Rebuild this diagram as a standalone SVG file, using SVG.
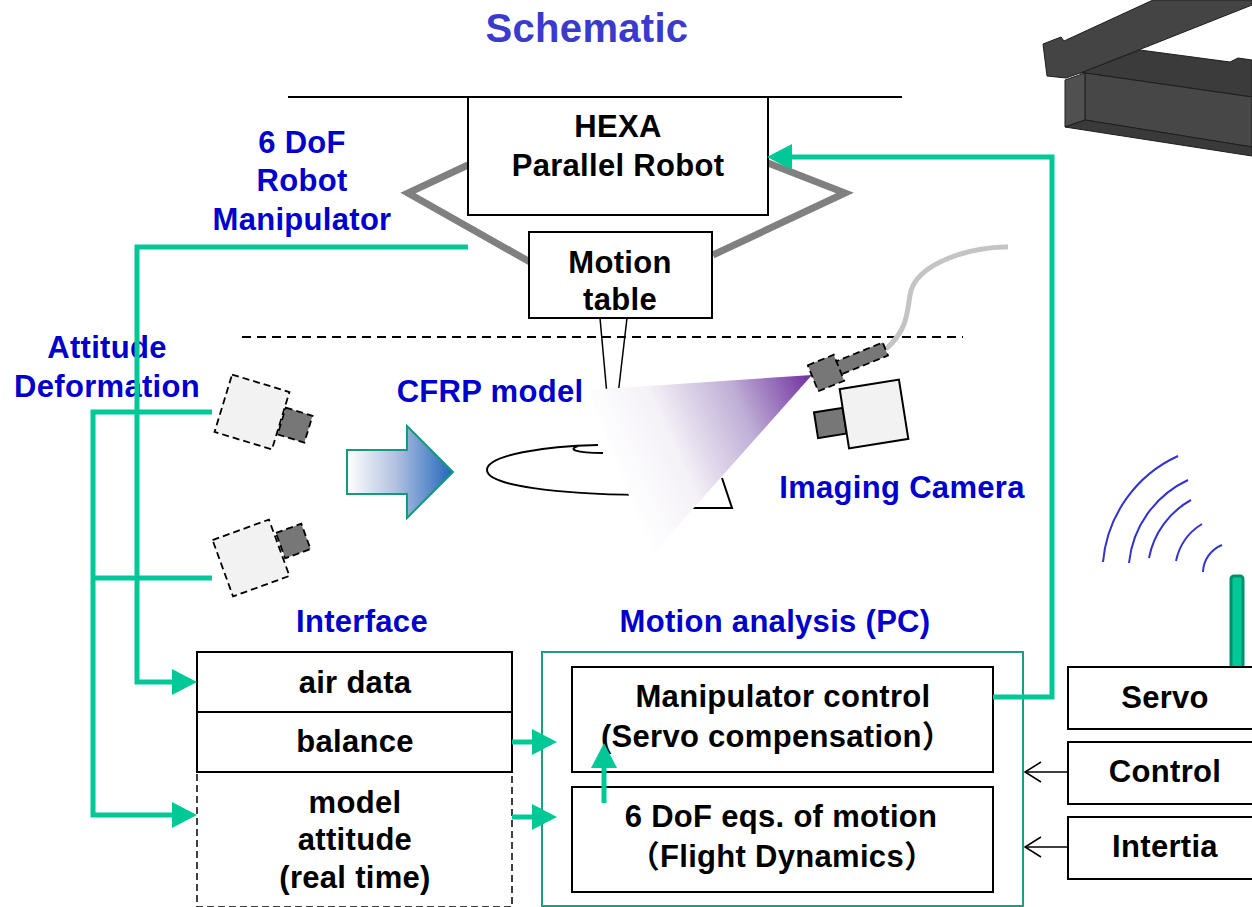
<svg xmlns="http://www.w3.org/2000/svg" width="1252" height="907" viewBox="0 0 1252 907">
  <style>
    .t { font-family: "Liberation Sans", Arial, "Noto Sans CJK JP", sans-serif; font-weight: bold; font-size: 31px; text-anchor: middle; letter-spacing: 0.3px; fill: #000; }
    .blue { fill: #0000cc; }
    .box { fill: #fff; stroke: #000; stroke-width: 2; }
    .dash { fill: #fff; stroke: #000; stroke-width: 1.5; stroke-dasharray: 7 4; }
    .frame { fill: none; stroke: #808080; stroke-width: 7; stroke-linejoin: miter; }
    .link { fill: none; stroke: #00c896; stroke-width: 5; stroke-linejoin: miter; }
    .thin { fill: none; stroke: #000; stroke-width: 1.5; }
    .cambody { fill: #f2f2f2; stroke: #000; stroke-width: 1.8; stroke-dasharray: 7 4; }
    .camlens { fill: #777; stroke: #000; stroke-width: 1.8; stroke-dasharray: 7 4; }
    .beam { stroke: #1e1e1e; stroke-width: 1; }
  </style>
  <defs>
    <marker id="ga" viewBox="0 0 25 26" markerWidth="25" markerHeight="26" refX="1" refY="13" orient="auto" markerUnits="userSpaceOnUse">
      <path d="M0,0 L25,13 L0,26 z" fill="#00c896"/>
    </marker>
    <marker id="open" viewBox="0 0 18 22" markerWidth="18" markerHeight="22" refX="17" refY="11" orient="auto" markerUnits="userSpaceOnUse">
      <path d="M1,1 L17,11 L1,21" fill="none" stroke="#000" stroke-width="1.5"/>
    </marker>
    <linearGradient id="beamGrad" gradientUnits="userSpaceOnUse" x1="612" y1="468" x2="812" y2="378">
      <stop offset="0" stop-color="#ffffff"/>
      <stop offset="0.3" stop-color="#f4f1f7"/>
      <stop offset="0.65" stop-color="#bfaed6"/>
      <stop offset="1" stop-color="#7030a0"/>
    </linearGradient>
    <linearGradient id="flowGrad" x1="0" y1="0" x2="1" y2="0">
      <stop offset="0" stop-color="#ffffff"/>
      <stop offset="0.45" stop-color="#b4c3e2"/>
      <stop offset="1" stop-color="#1f66bb"/>
    </linearGradient>
  </defs>

  <rect width="1252" height="907" fill="#fff"/>

  <!-- title -->
  <text class="t" x="587" y="42" style="font-size:40px; fill:#3a3acc">Schematic</text>

  <!-- steel frame in the corner -->
  <g id="steel-frame">
    <polygon class="beam" fill="#3b3b3b" points="1080,73 1140,50 1230,62 1238,58 1252,60 1252,97 1085,73"/>
    <polygon class="beam" fill="#474747" points="1085,73 1252,97 1252,147 1085,120"/>
    <polygon class="beam" fill="#505050" points="1065,80 1085,73 1085,120 1065,127"/>
    <polygon class="beam" fill="#3a3a3a" points="1065,127 1085,120 1252,147 1252,156"/>
    <polygon class="beam" fill="#444" points="1043,44 1061,37 1064,41 1153,0 1252,0 1252,5 1083,72 1066,78 1047,76"/>
  </g>

  <!-- top mounting line -->
  <line x1="288" y1="97" x2="902" y2="97" stroke="#000" stroke-width="2"/>

  <!-- hexapod legs -->
  <polyline class="frame" points="468,165 408,193 530,262"/>
  <polyline class="frame" points="768,163 845,193 713,255"/>

  <g id="hexa">
    <rect class="box" x="468" y="97" width="300" height="118"/>
    <text class="t" x="618" y="137">HEXA</text>
    <text class="t" x="618" y="176">Parallel Robot</text>
  </g>

  <g id="motion-table">
    <rect class="box" x="529" y="232" width="183" height="86"/>
    <text class="t" x="620" y="273">Motion</text>
    <text class="t" x="620" y="310">table</text>
  </g>

  <!-- test section boundary -->
  <line x1="242" y1="337" x2="963" y2="337" stroke="#000" stroke-width="2" stroke-dasharray="9 6"/>

  <!-- sting, model and stand -->
  <g id="cfrp-model">
    <line class="thin" x1="600" y1="318" x2="607" y2="395"/>
    <line class="thin" x1="627" y1="318" x2="618" y2="395"/>
    <path d="M598,445 C545,446 487,455 487,470 C487,486 560,494 640,495" fill="none" stroke="#000" stroke-width="2"/>
    <path d="M578,446 C568,449 574,453 603,453" fill="none" stroke="#000" stroke-width="2"/>
    <path d="M722,478 L732,508 L640,508" fill="none" stroke="#000" stroke-width="2"/>
    <polygon points="588,390 812,375 652,555" fill="url(#beamGrad)"/>
  </g>

  <!-- flow arrow -->
  <polygon points="347,450 407,450 407,426 453,472 407,518 407,494 347,494" fill="url(#flowGrad)" stroke="#139b7b" stroke-width="2"/>

  <!-- cable and imaging camera -->
  <g id="imaging-camera">
    <path d="M1008,247 C975,246 915,262 910,295 C907,318 905,332 886,349" fill="none" stroke="#c4c4c4" stroke-width="5"/>
    <g transform="translate(826,373) rotate(-22)">
      <rect class="camlens" x="10" y="-7" width="54" height="14"/>
      <rect class="camlens" x="-14" y="-14" width="28" height="28"/>
    </g>
    <g transform="translate(874,414) rotate(-9)">
      <rect x="-59" y="-11" width="29" height="26" fill="#777" stroke="#000" stroke-width="2"/>
      <rect x="-30" y="-30" width="60" height="60" fill="#f2f2f2" stroke="#000" stroke-width="2"/>
    </g>
  </g>

  <!-- attitude cameras -->
  <g id="camera-upper" transform="translate(252,412) rotate(17)">
    <rect class="camlens" x="31" y="-14" width="28" height="28"/>
    <rect class="cambody" x="-30" y="-30" width="60" height="60"/>
  </g>
  <g id="camera-lower" transform="translate(251,558) rotate(-20)">
    <rect class="camlens" x="32" y="-15" width="27" height="27"/>
    <rect class="cambody" x="-30" y="-30" width="60" height="60"/>
  </g>

  <!-- labels -->
  <g id="labels">
    <text class="t blue" x="302" y="153">6 DoF</text>
    <text class="t blue" x="302" y="191">Robot</text>
    <text class="t blue" x="302" y="230">Manipulator</text>
    <text class="t blue" x="107" y="358">Attitude</text>
    <text class="t blue" x="107" y="397">Deformation</text>
    <text class="t blue" x="490" y="402">CFRP model</text>
    <text class="t blue" x="902" y="498">Imaging Camera</text>
    <text class="t blue" x="362" y="632">Interface</text>
    <text class="t blue" x="775" y="632">Motion analysis (PC)</text>
  </g>

  <!-- radio waves and antenna -->
  <g id="telemetry" fill="none" stroke="#3333cc" stroke-width="2">
    <path d="M1103,562 A129,129 0 0 1 1178,456"/>
    <path d="M1129,563 A103,103 0 0 1 1188,480"/>
    <path d="M1149,558 A84,84 0 0 1 1191,500"/>
    <path d="M1176,561 A57,57 0 0 1 1202,524"/>
    <path d="M1203,572 A30,30 0 0 1 1222,545"/>
  </g>
  <rect x="1231" y="576" width="12" height="92" rx="3" fill="#00c896" stroke="#00906c" stroke-width="3"/>

  <!-- interface stack -->
  <g id="interface">
    <rect class="dash" x="197" y="772" width="315" height="135"/>
    <rect class="box" x="197" y="652" width="315" height="60"/>
    <rect class="box" x="197" y="712" width="315" height="60"/>
    <text class="t" x="355" y="693">air data</text>
    <text class="t" x="355" y="752">balance</text>
    <text class="t" x="355" y="813">model</text>
    <text class="t" x="355" y="850">attitude</text>
    <text class="t" x="355" y="888">(real time)</text>
  </g>

  <!-- motion analysis PC -->
  <g id="motion-analysis">
    <rect x="542" y="652" width="481" height="254" fill="none" stroke="#1e9e7e" stroke-width="2"/>
    <rect class="box" x="572" y="667" width="421" height="105"/>
    <text class="t" x="783" y="707">Manipulator control</text>
    <text class="t" x="777" y="747">(Servo compensation）</text>
    <rect class="box" x="572" y="787" width="421" height="105"/>
    <text class="t" x="781" y="827">6 DoF eqs. of motion</text>
    <text class="t" x="782" y="867">（Flight Dynamics）</text>
  </g>

  <!-- simulation inputs -->
  <g id="servo">
    <rect class="box" x="1068" y="667" width="200" height="62"/>
    <text class="t" x="1165" y="708">Servo</text>
  </g>
  <g id="control">
    <rect class="box" x="1068" y="742" width="200" height="62"/>
    <text class="t" x="1165" y="782">Control</text>
  </g>
  <g id="inertia">
    <rect class="box" x="1068" y="817" width="200" height="62"/>
    <text class="t" x="1165" y="857">Intertia</text>
  </g>

  <!-- connectors -->
  <g id="connectors">
    <path class="link" d="M993,697 H1052 V157 H791" marker-end="url(#ga)"/>
    <path class="link" d="M468,247 H137 V682 H173" marker-end="url(#ga)"/>
    <path class="link" d="M212,412 H93 V815 H173" marker-end="url(#ga)"/>
    <path class="link" d="M212,578 H93"/>
    <path class="link" d="M512,742 H533" marker-end="url(#ga)"/>
    <path class="link" d="M512,817 H533" marker-end="url(#ga)"/>
    <path class="link" d="M604,803 V767" marker-end="url(#ga)"/>
    <path class="thin" d="M1068,772 H1025" marker-end="url(#open)"/>
    <path class="thin" d="M1068,847 H1025" marker-end="url(#open)"/>
  </g>
</svg>
